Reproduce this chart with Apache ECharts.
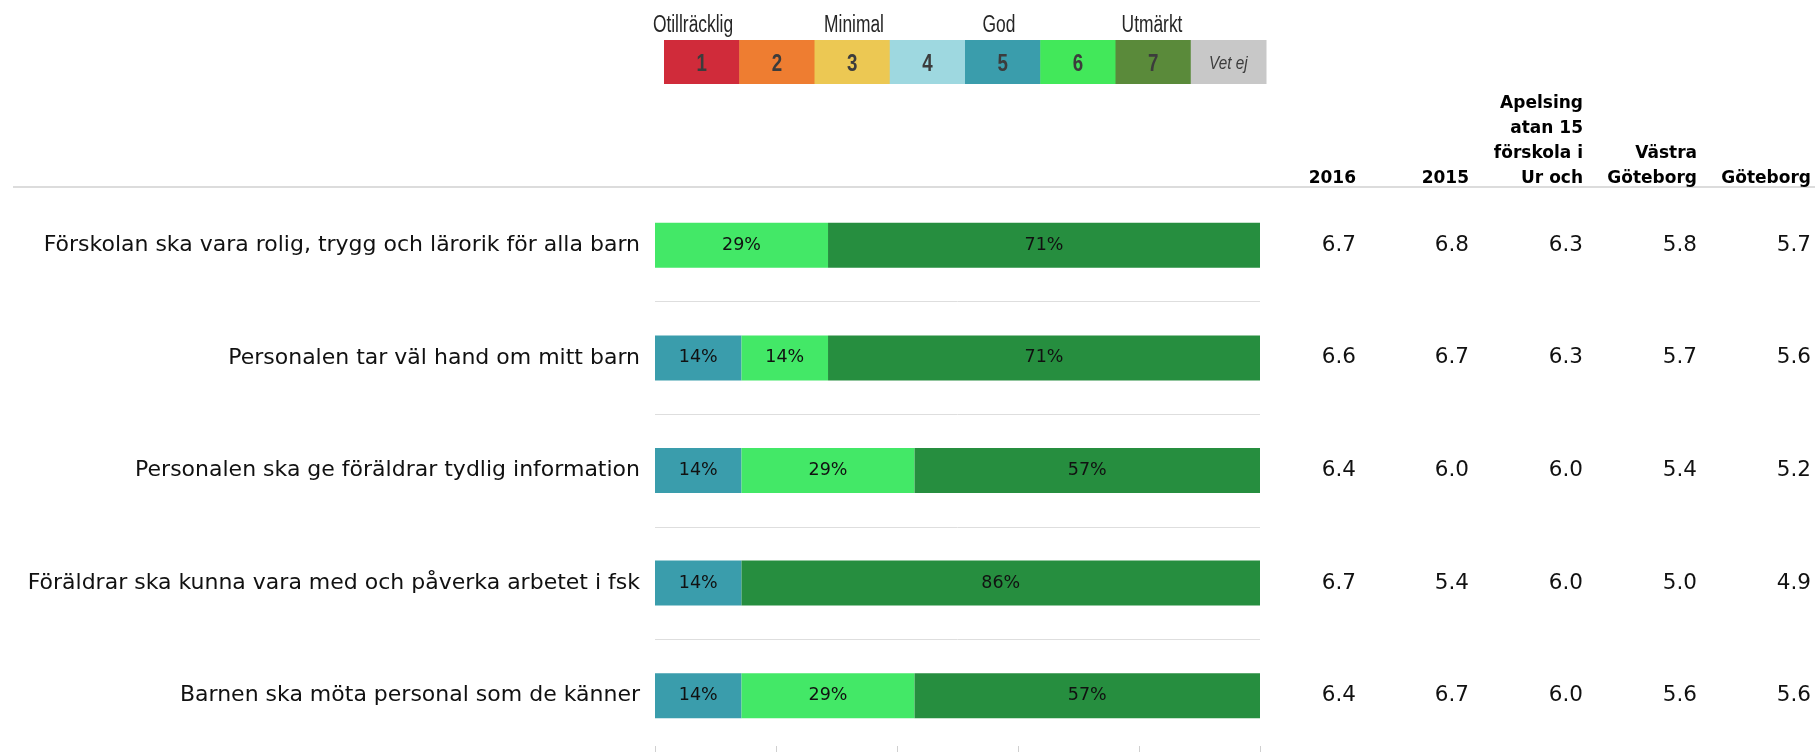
<!DOCTYPE html>
<html>
<head>
<meta charset="utf-8">
<script src="https://cdn.jsdelivr.net/npm/echarts@6/dist/echarts.min.js"></script>
<style>
html,body{margin:0;padding:0;background:#fff;}
#chart{width:1815px;height:752px;}
</style>
</head>
<body>
<div id="chart"></div>
<script>
// ---- data ----
var categories = [
  'Förskolan ska vara rolig, trygg och lärorik för alla barn',
  'Personalen tar väl hand om mitt barn',
  'Personalen ska ge föräldrar tydlig information',
  'Föräldrar ska kunna vara med och påverka arbetet i fsk',
  'Barnen ska möta personal som de känner'
];
var share5 = [0, 14.3, 14.3, 14.3, 14.3];
var share6 = [28.6, 14.3, 28.6, 0, 28.6];
var share7 = [71.4, 71.4, 57.1, 85.7, 57.1];

var columnHeaders = ['2016', '2015', 'Apelsing\natan 15\nförskola i\nUr och', 'Västra\nGöteborg', 'Göteborg'];
var col2016 = ['6.7', '6.6', '6.4', '6.7', '6.4'];
var col2015 = ['6.8', '6.7', '6.0', '5.4', '6.7'];
var colUnit = ['6.3', '6.3', '6.0', '6.0', '6.0'];
var colVastra = ['5.8', '5.7', '5.4', '5.0', '5.6'];
var colGbg = ['5.7', '5.6', '5.2', '4.9', '5.6'];

var scaleLabels = ['1', '2', '3', '4', '5', '6', '7', 'Vet ej'];
var scaleColors = ['#D02B3A', '#EE7D31', '#ECC853', '#9ED8E0', '#3A9DAC', '#42E85A', '#5A8A3A', '#C8C8C8'];
var scaleNames = ['Otillräcklig', 'Minimal', 'God', 'Utmärkt'];

// ---- layout ----
var GRID_LEFT = 655, GRID_RIGHT_X = 1260, GRID_TOP = 189, GRID_H = 565;
var colRight = [1356, 1469, 1583, 1697, 1811];
var scaleNameX = [693, 854, 999, 1152];
var columns = [col2016, col2015, colUnit, colVastra, colGbg];

var chart = echarts.init(document.getElementById('chart'), null, {renderer: 'canvas'});

var yAxes = [{
  type: 'category', data: categories, inverse: true, position: 'left',
  axisLine: {show: false}, axisTick: {show: false},
  splitLine: {show: true, showMinLine: false, lineStyle: {color: '#DEDEDE', width: 1}},
  axisLabel: {margin: 15, fontFamily: 'DejaVu Sans', fontSize: 22, color: '#111'}
}];
columns.forEach(function (col, k) {
  yAxes.push({
    type: 'category', data: categories, inverse: true, position: 'right', offset: 0,
    axisLine: {show: false}, axisTick: {show: false}, splitLine: {show: false},
    axisLabel: {
      margin: colRight[k] - GRID_RIGHT_X, align: 'right',
      fontFamily: 'DejaVu Sans', fontSize: 21.5, color: '#111',
      formatter: (function (c) { return function (v, i) { return c[i]; }; })(col)
    }
  });
});

function barLabel() {
  return {
    show: true, position: 'inside', fontFamily: 'DejaVu Sans', fontSize: 17.5, color: '#111',
    formatter: function (p) { return p.value > 0 ? Math.round(p.value) + '%' : ''; }
  };
}

var graphics = [];
// header line
graphics.push({type: 'rect', shape: {x: 13, y: 186, width: 1802, height: 2}, style: {fill: '#DCDCDC'}, silent: true});
// column headers
columnHeaders.forEach(function (h, k) {
  graphics.push({
    type: 'text', x: colRight[k], y: 191.5,
    style: {text: h, fontFamily: 'DejaVu Sans', fontWeight: 'bold', fontSize: 17, lineHeight: 25,
      fill: '#000', align: 'right', verticalAlign: 'bottom'}
  });
});
// scale legend
var BOX_X = 664, BOX_W = 75.25, BOX_Y = 40, BOX_H = 44;
var NARROW = 'Liberation Sans, Arial, sans-serif';
scaleLabels.forEach(function (lab, i) {
  graphics.push({type: 'rect', shape: {x: BOX_X + i * BOX_W, y: BOX_Y, width: BOX_W + 0.5, height: BOX_H},
    style: {fill: scaleColors[i]}, silent: true});
  var isVet = (lab === 'Vet ej');
  graphics.push({
    type: 'text', x: BOX_X + (i + 0.5) * BOX_W, y: BOX_Y + BOX_H / 2 + 2, scaleX: isVet ? 0.85 : 0.78,
    style: {text: lab, fontFamily: NARROW,
      fontWeight: isVet ? 'normal' : 'bold', fontStyle: isVet ? 'italic' : 'normal',
      fontSize: isVet ? 18 : 24, fill: '#3C3C3C', align: 'center', verticalAlign: 'middle'}
  });
});
scaleNames.forEach(function (n, j) {
  graphics.push({
    type: 'text', x: scaleNameX[j], y: 25.5, scaleX: 0.74,
    style: {text: n, fontFamily: NARROW,
      fontSize: 23.5, fill: '#262626', align: 'center', verticalAlign: 'middle'}
  });
});

var option = {
  backgroundColor: '#fff',
  animation: false,
  grid: {left: GRID_LEFT, top: GRID_TOP, width: GRID_RIGHT_X - GRID_LEFT, height: GRID_H, containLabel: false},
  xAxis: {
    type: 'value', min: 0, max: 100, interval: 20,
    axisLine: {show: false},
    axisTick: {show: true, inside: true, length: 6, lineStyle: {color: '#D0D0D0'}},
    axisLabel: {show: false}, splitLine: {show: false}
  },
  yAxis: yAxes,
  series: [
    {name: '5', type: 'bar', stack: 'a', data: share5, barWidth: 45, itemStyle: {color: '#3A9DAC'}, label: barLabel()},
    {name: '6', type: 'bar', stack: 'a', data: share6, barWidth: 45, itemStyle: {color: '#43E867'}, label: barLabel()},
    {name: '7', type: 'bar', stack: 'a', data: share7, barWidth: 45, itemStyle: {color: '#268E3F'}, label: barLabel()}
  ],
  graphic: graphics
};
chart.setOption(option);
</script>
</body>
</html>
